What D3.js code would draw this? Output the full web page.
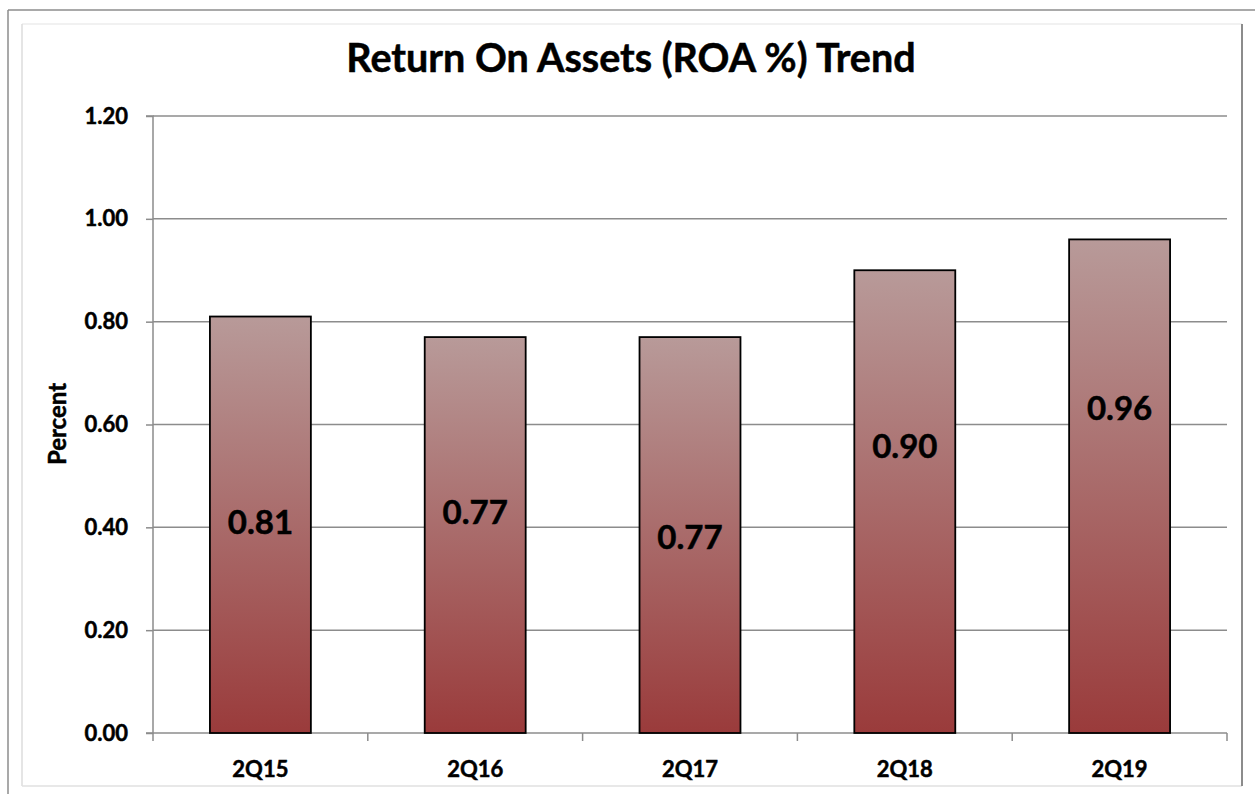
<!DOCTYPE html>
<html>
<head>
<meta charset="utf-8">
<script src="https://cdn.jsdelivr.net/npm/d3@7"></script>
<style>
  html, body { margin: 0; padding: 0; background: #fff; }
  svg { display: block; }
  text { font-family: Lato, "Open Sans", sans-serif; font-weight: bold; fill: #000; stroke: #000; stroke-width: 0.5px; }
</style>
</head>
<body>
<svg id="chart" width="1255" height="794"></svg>
<script>
// ---- data ----
const categories = ["2Q15", "2Q16", "2Q17", "2Q18", "2Q19"];
const roaValues = [0.81, 0.77, 0.77, 0.90, 0.96];
const valueLabels = ["0.81", "0.77", "0.77", "0.90", "0.96"];
// where each data label sits, in percent units (as placed in the original)
const labelAnchors = [0.41, 0.43, 0.38, 0.557, 0.632];
const yTicks = [0, 0.2, 0.4, 0.6, 0.8, 1.0, 1.2];
const titleText = "Return On Assets (ROA %) Trend";
const yAxisTitle = "Percent";

// ---- layout ----
const W = 1255, H = 794;
const plot = { left: 153, right: 1227, top: 116, bottom: 733 };

const svg = d3.select("#chart");

// gradient for bars
const defs = svg.append("defs");
const grad = defs.append("linearGradient")
  .attr("id", "barGrad").attr("x1", 0).attr("y1", 0).attr("x2", 0).attr("y2", 1);
grad.append("stop").attr("offset", "0%").attr("stop-color", "#b89a99");
grad.append("stop").attr("offset", "100%").attr("stop-color", "#9a3b3b");

// frames
svg.append("line").attr("x1", 8).attr("y1", 10).attr("x2", W).attr("y2", 10)
  .attr("stroke", "#8c8c8c").attr("stroke-width", 1.5);
svg.append("line").attr("x1", 8).attr("y1", 10).attr("x2", 8).attr("y2", H)
  .attr("stroke", "#8c8c8c").attr("stroke-width", 1.5);
svg.append("line").attr("x1", 22).attr("y1", 24).attr("x2", 1242).attr("y2", 24)
  .attr("stroke", "#ececec").attr("stroke-width", 1.5);
svg.append("line").attr("x1", 22).attr("y1", 24).attr("x2", 22).attr("y2", 786)
  .attr("stroke", "#dcdcdc").attr("stroke-width", 1.5);
svg.append("line").attr("x1", 22).attr("y1", 786).attr("x2", 1242).attr("y2", 786)
  .attr("stroke", "#e0e0e0").attr("stroke-width", 1.5);
svg.append("line").attr("x1", 1242).attr("y1", 24).attr("x2", 1242).attr("y2", 786)
  .attr("stroke", "#8c8c8c").attr("stroke-width", 2);

// scales
const x = d3.scaleBand().domain(categories).range([plot.left, plot.right])
  .paddingInner(0.53).paddingOuter(0.265);
const y = d3.scaleLinear().domain([0, 1.2]).range([plot.bottom, plot.top]);
const xb = d3.scaleBand().domain(categories).range([plot.left, plot.right]);

// gridlines
svg.append("g").selectAll("line").data(yTicks.filter(d => d > 0)).join("line")
  .attr("x1", plot.left).attr("x2", plot.right)
  .attr("y1", d => y(d)).attr("y2", d => y(d))
  .attr("stroke", "#8c8c8c").attr("stroke-width", 1.5);

// y axis
const yAxis = d3.axisLeft(y).tickValues(yTicks).tickFormat(d3.format(".2f"))
  .tickSize(7).tickPadding(18);
const gy = svg.append("g").attr("transform", `translate(${plot.left},0)`).call(yAxis);
gy.select(".domain").attr("stroke", "#8c8c8c").attr("stroke-width", 1.5)
  .attr("d", `M-7,${plot.top}H0V${plot.bottom}H-7`);
gy.selectAll(".tick line").attr("stroke", "#8c8c8c").attr("stroke-width", 1.5);
gy.selectAll(".tick text").attr("font-size", 22).attr("fill", "#000")
  .style("font-family", "Lato, sans-serif").style("font-weight", "bold");

// x axis (ticks between categories)
const gx = svg.append("g").attr("transform", `translate(0,${plot.bottom})`);
gx.append("line").attr("x1", plot.left).attr("x2", plot.right).attr("y1", 0).attr("y2", 0)
  .attr("stroke", "#8c8c8c").attr("stroke-width", 1.5);
const boundaries = categories.map(c => xb(c)).concat([xb(categories[categories.length - 1]) + xb.bandwidth()]);
gx.selectAll("line.tk").data(boundaries).join("line").attr("class", "tk")
  .attr("x1", d => d).attr("x2", d => d).attr("y1", 0).attr("y2", 8)
  .attr("stroke", "#8c8c8c").attr("stroke-width", 1.5);
gx.selectAll("text").data(categories).join("text")
  .attr("x", d => xb(d) + xb.bandwidth() / 2).attr("y", 44)
  .attr("text-anchor", "middle").attr("font-size", 22).text(d => d);

// bars
svg.append("g").selectAll("rect").data(roaValues).join("rect")
  .attr("x", (d, i) => x(categories[i]))
  .attr("width", x.bandwidth())
  .attr("y", d => y(d))
  .attr("height", d => y(0) - y(d))
  .attr("fill", "url(#barGrad)")
  .attr("stroke", "#000").attr("stroke-width", 1.8);

// value labels
svg.append("g").selectAll("text").data(valueLabels).join("text")
  .attr("x", (d, i) => x(categories[i]) + x.bandwidth() / 2)
  .attr("y", (d, i) => y(labelAnchors[i]))
  .attr("dy", "0.36em")
  .attr("text-anchor", "middle").attr("font-size", 33).text(d => d);

// title
svg.append("text").attr("x", 631).attr("y", 72).attr("text-anchor", "middle")
  .attr("font-size", 39.5).text(titleText);

// y axis title
svg.append("text").attr("transform", "translate(66,424) rotate(-90)")
  .attr("text-anchor", "middle").attr("font-size", 24).text(yAxisTitle);
</script>
</body>
</html>
